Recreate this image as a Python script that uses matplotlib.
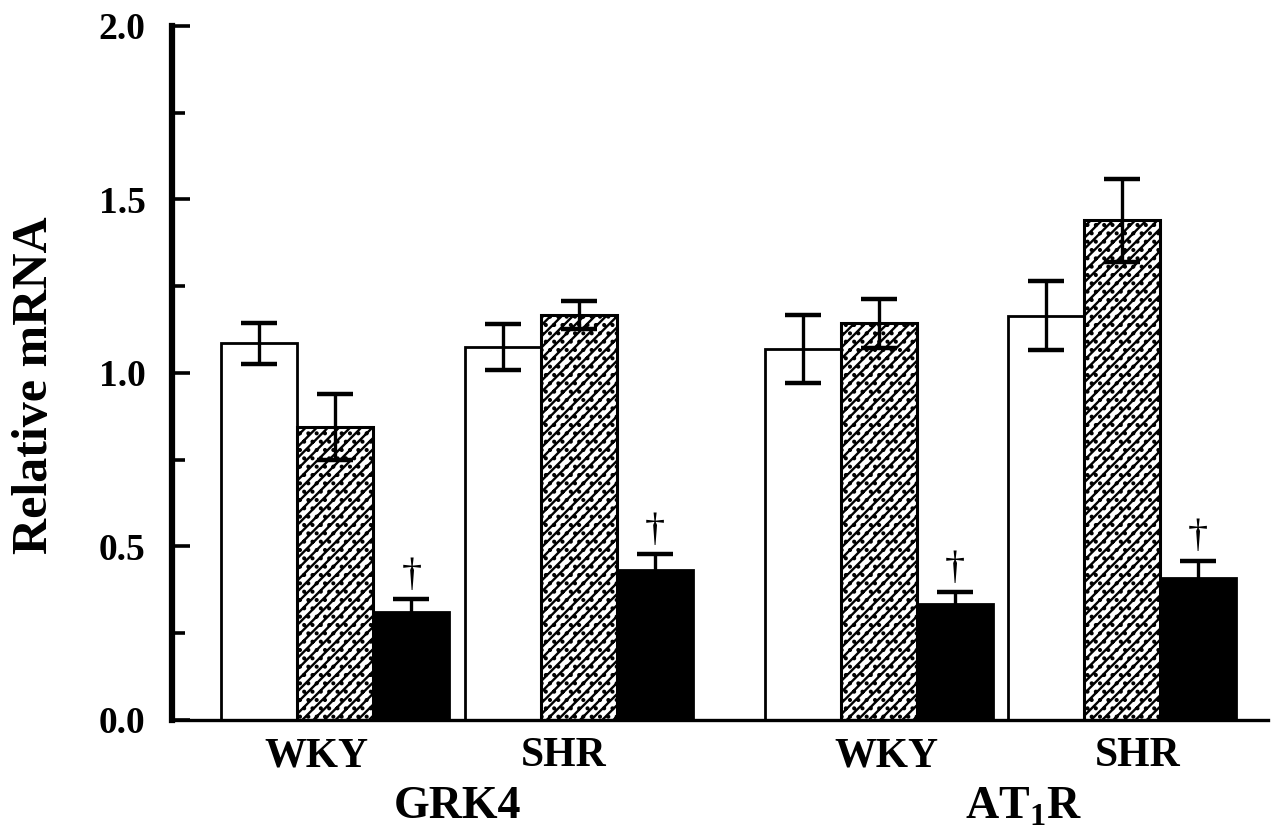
import matplotlib
matplotlib.use("Agg")
import matplotlib.pyplot as plt
import numpy as np

plt.rcParams['font.family'] = ['Liberation Serif', 'DejaVu Serif']
plt.rcParams['font.weight'] = 'bold'
plt.rcParams['mathtext.fontset'] = 'custom'
plt.rcParams['mathtext.rm'] = 'Liberation Serif:bold'
plt.rcParams['hatch.linewidth'] = 1.7

# data (mean, error)
groups = ['WKY', 'SHR', 'WKY', 'SHR']
genes = ['GRK4', 'AT$_1$R']
white_mean = [1.085, 1.075, 1.068, 1.165]
white_err = [0.060, 0.065, 0.098, 0.100]
hatch_mean = [0.845, 1.168, 1.143, 1.440]
hatch_err = [0.095, 0.040, 0.070, 0.120]
black_mean = [0.312, 0.433, 0.335, 0.410]
black_err = [0.037, 0.046, 0.034, 0.049]

# layout
group_left = np.array([0.65, 3.85, 7.80, 11.00])
label_x = [1.9, 5.15, 9.4, 12.7]
gene_x = [3.75, 11.2]

fig = plt.figure(figsize=(12.75, 8.36), dpi=100)
ax = fig.add_axes([0.1349, 0.1388, 0.8596, 0.8301])

w = 1.0
x_white = group_left + w / 2
x_hatch = group_left + 1.5 * w
x_black = group_left + 2.5 * w

ax.bar(x_white, white_mean, w, color='white', edgecolor='black', linewidth=2.0, zorder=2)
ax.bar(x_hatch, hatch_mean, w, color='white', edgecolor='black', linewidth=2.2,
       hatch='///..', zorder=2)
ax.bar(x_black, black_mean, w, color='black', edgecolor='black', linewidth=2.0, zorder=2)

for xs, m, e in [(x_white, white_mean, white_err),
                 (x_hatch, hatch_mean, hatch_err),
                 (x_black, black_mean, black_err)]:
    ax.errorbar(xs, m, yerr=e, fmt='none', ecolor='black', elinewidth=2.4,
                capsize=13, capthick=3.2, zorder=3)

# daggers over the black bars
for xb, m, e in zip(x_black, black_mean, black_err):
    ax.text(xb, m + e + 0.015, '\u2020', ha='center', va='bottom',
            fontsize=29, fontweight='normal', zorder=4)

ax.set_xlim(0, 14.42)
ax.set_ylim(0, 2.0)
ax.set_yticks(np.arange(0, 2.01, 0.5))
ax.set_yticks(np.arange(0.25, 2.0, 0.5), minor=True)
ax.set_yticklabels(['%.1f' % v for v in np.arange(0, 2.01, 0.5)], fontsize=27, fontweight='bold')
ax.tick_params(axis='y', which='major', direction='in', length=13, width=2.6, pad=19)
ax.tick_params(axis='y', which='minor', direction='in', length=9, width=2.6)
ax.set_xticks([])

ax.spines['top'].set_visible(False)
ax.spines['right'].set_visible(False)
ax.spines['left'].set_linewidth(4.5)
ax.spines['bottom'].set_linewidth(2.4)

for x, g in zip(label_x, groups):
    ax.text(x, -0.104, g, ha='center', va='center', fontsize=30, fontweight='bold')
for x, g in zip(gene_x, genes):
    ax.text(x, -0.251, g, ha='center', va='center', fontsize=33, fontweight='bold')

fig.text(35 / 1275, 1 - 385 / 836, 'Relative mRNA', rotation=90, ha='center', va='center',
         fontsize=36, fontweight='bold')

fig.savefig('out.png', dpi=100)
